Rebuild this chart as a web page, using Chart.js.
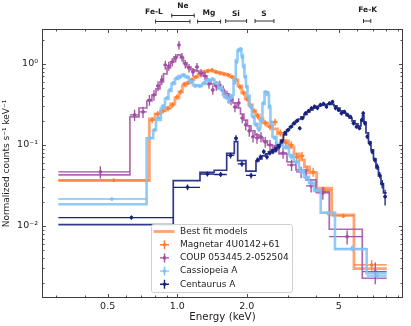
<!DOCTYPE html>
<html>
<head>
<meta charset="utf-8">
<script src="https://cdn.jsdelivr.net/npm/chart.js@4.4.1/dist/chart.umd.min.js"></script>
<style>
  html, body { margin: 0; padding: 0; background: #fff; }
  #spectra { display: block; }
</style>
</head>
<body>
<canvas id="spectra" width="411" height="326"></canvas>
<script>
// Magnetar 4U0142+61: bin edges (keV), counts, fractional errors, model
const magEdges = [0.306, 0.757, 0.801, 0.846, 0.889, 0.935, 0.977, 1.017, 1.053, 1.091, 1.135, 1.181, 1.229, 1.279, 1.331, 1.385, 1.441, 1.500, 1.561, 1.624, 1.690, 1.759, 1.830, 1.901, 1.968, 2.038, 2.111, 2.185, 2.263, 2.348, 2.455, 2.581, 2.713, 2.866, 3.027, 3.197, 3.377, 3.549, 3.731, 4.009, 4.654, 5.811, 8.05];
const magCounts = [0.0367, 0.203, 0.241, 0.263, 0.282, 0.312, 0.391, 0.451, 0.566, 0.583, 0.635, 0.691, 0.752, 0.797, 0.820, 0.843, 0.797, 0.774, 0.752, 0.731, 0.691, 0.635, 0.520, 0.439, 0.370, 0.303, 0.263, 0.228, 0.203, 0.187, 0.167, 0.192, 0.141, 0.106, 0.100, 0.0711, 0.0731, 0.0491, 0.0464, 0.0278, 0.0133, 0.0033];
const magErr = [0.05, 0.09, 0.09, 0.08, 0.08, 0.08, 0.07, 0.07, 0.06, 0.06, 0.06, 0.06, 0.06, 0.06, 0.06, 0.06, 0.06, 0.06, 0.06, 0.06, 0.06, 0.06, 0.07, 0.07, 0.07, 0.08, 0.08, 0.08, 0.08, 0.09, 0.09, 0.1, 0.1, 0.11, 0.11, 0.12, 0.12, 0.13, 0.13, 0.08, 0.06, 0.15];
const magModel = [0.0364, 0.209, 0.241, 0.263, 0.286, 0.321, 0.380, 0.451, 0.535, 0.583, 0.635, 0.691, 0.752, 0.797, 0.820, 0.820, 0.797, 0.774, 0.752, 0.731, 0.691, 0.635, 0.535, 0.439, 0.370, 0.312, 0.263, 0.235, 0.209, 0.187, 0.172, 0.158, 0.137, 0.112, 0.0945, 0.0774, 0.0653, 0.0535, 0.0451, 0.0292, 0.0137, 0.00298];

// COUP 053445.2-052504
const coupEdges = [0.306, 0.624, 0.683, 0.739, 0.777, 0.809, 0.842, 0.872, 0.903, 0.935, 0.968, 1.002, 1.032, 1.064, 1.102, 1.146, 1.193, 1.241, 1.292, 1.344, 1.399, 1.449, 1.500, 1.553, 1.608, 1.674, 1.741, 1.812, 1.877, 1.943, 2.012, 2.084, 2.168, 2.256, 2.348, 2.455, 2.581, 2.754, 2.983, 3.262, 3.604, 3.981, 4.544, 6.313, 8.05];
const coupCounts = [0.0465, 0.235, 0.256, 0.359, 0.414, 0.535, 0.635, 0.972, 0.945, 1.058, 1.186, 1.717, 1.220, 1.0, 0.893, 0.797, 0.918, 0.774, 0.711, 0.566, 0.478, 0.535, 0.550, 0.478, 0.414, 0.359, 0.294, 0.330, 0.215, 0.177, 0.149, 0.126, 0.122, 0.126, 0.109, 0.100, 0.0972, 0.0796, 0.0566, 0.0465, 0.0312, 0.0256, 0.00738, 0.00273];
const coupErr = [0.17, 0.16, 0.16, 0.15, 0.15, 0.14, 0.14, 0.13, 0.13, 0.12, 0.12, 0.12, 0.12, 0.12, 0.12, 0.12, 0.12, 0.12, 0.12, 0.13, 0.13, 0.13, 0.13, 0.13, 0.13, 0.14, 0.14, 0.14, 0.14, 0.15, 0.15, 0.15, 0.15, 0.15, 0.15, 0.15, 0.15, 0.15, 0.16, 0.16, 0.17, 0.18, 0.2, 0.3];
const coupModel = [0.0426, 0.222, 0.286, 0.349, 0.414, 0.491, 0.600, 0.752, 0.893, 1.058, 1.220, 1.291, 1.186, 1.029, 0.918, 0.843, 0.820, 0.774, 0.711, 0.635, 0.566, 0.535, 0.506, 0.464, 0.426, 0.380, 0.330, 0.286, 0.241, 0.203, 0.172, 0.149, 0.133, 0.122, 0.112, 0.100, 0.0892, 0.0774, 0.0617, 0.0491, 0.0370, 0.0263, 0.0091, 0.00226];

// Cassiopeia A
const casEdges = [0.306, 0.737, 0.787, 0.809, 0.850, 0.885, 0.916, 0.944, 0.977, 1.012, 1.048, 1.080, 1.124, 1.169, 1.223, 1.279, 1.331, 1.392, 1.449, 1.507, 1.576, 1.641, 1.699, 1.751, 1.791, 1.822, 1.858, 1.895, 1.923, 1.952, 1.982, 2.012, 2.053, 2.104, 2.158, 2.223, 2.290, 2.336, 2.384, 2.443, 2.493, 2.530, 2.581, 2.686, 2.866, 3.042, 3.197, 3.361, 3.532, 3.712, 3.902, 4.172, 4.809, 6.597, 8.05];
const casCounts = [0.0215, 0.122, 0.153, 0.215, 0.303, 0.380, 0.478, 0.583, 0.672, 0.691, 0.731, 0.691, 0.600, 0.535, 0.535, 0.583, 0.635, 0.653, 0.583, 0.506, 0.391, 0.340, 0.391, 0.583, 1.058, 1.489, 1.532, 1.220, 0.918, 0.691, 0.520, 0.391, 0.294, 0.222, 0.177, 0.153, 0.203, 0.330, 0.451, 0.439, 0.303, 0.192, 0.122, 0.100, 0.0945, 0.0711, 0.0617, 0.0465, 0.0391, 0.0340, 0.0278, 0.0143, 0.0053, 0.00241];
const casErr = [0.04, 0.06, 0.06, 0.05, 0.05, 0.05, 0.05, 0.05, 0.05, 0.05, 0.05, 0.05, 0.05, 0.05, 0.05, 0.05, 0.05, 0.05, 0.05, 0.05, 0.05, 0.05, 0.05, 0.05, 0.05, 0.05, 0.05, 0.05, 0.05, 0.05, 0.05, 0.05, 0.05, 0.05, 0.05, 0.05, 0.05, 0.05, 0.05, 0.05, 0.05, 0.05, 0.05, 0.07, 0.07, 0.07, 0.07, 0.07, 0.07, 0.07, 0.07, 0.06, 0.08, 0.1];
const casModel = [0.0185, 0.121, 0.153, 0.203, 0.286, 0.370, 0.464, 0.566, 0.653, 0.711, 0.731, 0.691, 0.617, 0.550, 0.535, 0.566, 0.617, 0.635, 0.583, 0.491, 0.414, 0.370, 0.414, 0.635, 1.120, 1.447, 1.532, 1.291, 0.972, 0.711, 0.535, 0.403, 0.303, 0.228, 0.182, 0.162, 0.209, 0.321, 0.451, 0.414, 0.286, 0.182, 0.126, 0.103, 0.0918, 0.0752, 0.0617, 0.0491, 0.0403, 0.0340, 0.0270, 0.0146, 0.00516, 0.0026];

// Centaurus A
const cenEdges = [0.306, 0.961, 1.254, 1.445, 1.636, 1.765, 1.825, 1.982, 2.190, 2.256, 2.324, 2.407, 2.480, 2.555, 2.633, 2.713, 2.795, 2.879, 2.967, 3.057, 3.149, 3.245, 3.343, 3.428, 3.532, 3.639, 3.750, 3.863, 3.981, 4.101, 4.226, 4.353, 4.486, 4.622, 4.762, 4.906, 5.055, 5.209, 5.367, 5.529, 5.697, 5.869, 6.047, 6.231, 6.324, 6.420, 6.549, 6.714, 6.884, 7.058, 7.235, 7.418, 7.603, 7.796, 8.05];
const cenCounts = [0.0127, 0.0300, 0.0438, 0.0432, 0.0742, 0.121, 0.0583, 0.0420, 0.0653, 0.0711, 0.0827, 0.0711, 0.0796, 0.0827, 0.0868, 0.0953, 0.110, 0.141, 0.153, 0.168, 0.185, 0.198, 0.161, 0.214, 0.246, 0.263, 0.284, 0.297, 0.286, 0.312, 0.321, 0.297, 0.327, 0.340, 0.286, 0.271, 0.246, 0.256, 0.235, 0.222, 0.185, 0.168, 0.161, 0.203, 0.246, 0.185, 0.127, 0.105, 0.0827, 0.0653, 0.0540, 0.0426, 0.0330, 0.0230];
const cenErr = [0.06, 0.08, 0.07, 0.07, 0.08, 0.09, 0.08, 0.08, 0.07, 0.07, 0.07, 0.07, 0.07, 0.07, 0.07, 0.07, 0.06, 0.06, 0.06, 0.06, 0.06, 0.06, 0.06, 0.06, 0.06, 0.06, 0.06, 0.06, 0.06, 0.06, 0.06, 0.06, 0.06, 0.06, 0.06, 0.06, 0.06, 0.06, 0.06, 0.06, 0.06, 0.06, 0.06, 0.07, 0.07, 0.07, 0.07, 0.07, 0.07, 0.07, 0.09, 0.09, 0.12, 0.22];
const cenModel = [0.0104, 0.0362, 0.0460, 0.0487, 0.0789, 0.110, 0.0640, 0.0476, 0.0635, 0.0672, 0.0731, 0.0774, 0.0819, 0.0868, 0.0918, 0.100, 0.115, 0.133, 0.153, 0.167, 0.182, 0.198, 0.209, 0.222, 0.238, 0.256, 0.271, 0.286, 0.299, 0.307, 0.312, 0.316, 0.321, 0.316, 0.303, 0.286, 0.263, 0.248, 0.231, 0.215, 0.198, 0.182, 0.172, 0.198, 0.231, 0.192, 0.141, 0.109, 0.0868, 0.0672, 0.0520, 0.0414, 0.0330, 0.0256];

// emission line bands marked above the plot (keV)
const lineNames = ['Fe-L', 'Ne', 'Mg', 'Si', 'S', 'Fe-K'];
const lineLo = [0.806, 0.946, 1.225, 1.62, 2.17, 6.39];
const lineHi = [1.135, 1.184, 1.54, 1.995, 2.62, 6.87];
const lineLabelAt = [0.793, 1.058, 1.371, 1.794, 2.371, 6.66];

// axes
const xTickVals = [0.5, 1, 2, 5];
const xTickLabels = ['0.5', '1.0', '2.0', '5'];
const xMinorVals = [0.3, 0.4, 0.6, 0.7, 0.8, 0.9, 3, 4, 6, 7, 8, 9];
const yTickVals = [0.01, 0.1, 1];
const yTickLabels = ['10⁻²', '10⁻¹', '10⁰'];
const yMinorVals = [0.002, 0.003, 0.004, 0.005, 0.006, 0.007, 0.008, 0.009, 0.02, 0.03, 0.04, 0.05, 0.06, 0.07, 0.08, 0.09, 0.2, 0.3, 0.4, 0.5, 0.6, 0.7, 0.8, 0.9, 2];

Chart.defaults.font.family = "'DejaVu Sans', sans-serif";

function dataPoints(edges, counts, errs) {
  return counts.map(function (v, i) {
    return {
      x: (edges[i] + edges[i + 1]) / 2, y: v,
      xLo: edges[i], xHi: edges[i + 1],
      yLo: v * (1 - errs[i]), yHi: v * (1 + errs[i])
    };
  });
}

function modelSteps(edges, model) {
  const pts = model.map(function (v, i) { return { x: edges[i], y: v }; });
  pts.push({ x: edges[edges.length - 1], y: model[model.length - 1] });
  return pts;
}

const sources = [
  { name: 'Magnetar 4U0142+61', edges: magEdges, counts: magCounts, errs: magErr, model: magModel,
    color: '#ff7f2e', modelColor: 'rgba(255,128,60,0.72)', modelWidth: 2.8 },
  { name: 'COUP 053445.2-052504', edges: coupEdges, counts: coupCounts, errs: coupErr, model: coupModel,
    color: '#a24fa3', modelColor: 'rgba(162,79,163,0.85)', modelWidth: 1.7 },
  { name: 'Cassiopeia A', edges: casEdges, counts: casCounts, errs: casErr, model: casModel,
    color: '#7fc1f7', modelColor: 'rgba(127,193,247,0.85)', modelWidth: 2.6 },
  { name: 'Centaurus A', edges: cenEdges, counts: cenCounts, errs: cenErr, model: cenModel,
    color: '#19237f', modelColor: 'rgba(25,35,127,0.9)', modelWidth: 1.7 }
];

const datasets = [];
sources.forEach(function (s, k) {
  datasets.push({
    label: s.name + ' model',
    data: modelSteps(s.edges, s.model),
    showLine: true,
    stepped: true,
    borderColor: s.modelColor,
    borderWidth: s.modelWidth,
    pointRadius: 0,
    order: 8 - 2 * k
  });
  datasets.push({
    label: s.name,
    data: dataPoints(s.edges, s.counts, s.errs),
    showLine: false,
    pointRadius: 1.8,
    pointBorderWidth: 0,
    backgroundColor: s.color,
    borderColor: s.color,
    errorBars: true,
    order: 7 - 2 * k
  });
});

const errorBars = {
  id: 'errorBars',
  afterDatasetDraw(chart, args) {
    const ds = chart.data.datasets[args.index];
    if (!ds.errorBars) return;
    const { ctx, chartArea: a, scales: { x, y } } = chart;
    ctx.save();
    ctx.beginPath();
    ctx.rect(a.left, a.top, a.right - a.left, a.bottom - a.top);
    ctx.clip();
    ctx.strokeStyle = ds.borderColor;
    ctx.lineWidth = 1.3;
    ctx.beginPath();
    ds.data.forEach(function (p) {
      const px = x.getPixelForValue(p.x), py = y.getPixelForValue(p.y);
      ctx.moveTo(x.getPixelForValue(p.xLo), py);
      ctx.lineTo(x.getPixelForValue(p.xHi), py);
      ctx.moveTo(px, y.getPixelForValue(p.yLo));
      ctx.lineTo(px, y.getPixelForValue(p.yHi));
    });
    ctx.stroke();
    ctx.restore();
  }
};

// frame with inward ticks on all four sides
const frameTicks = {
  id: 'frameTicks',
  afterDatasetsDraw(chart) {
    const { ctx, chartArea: a, scales: { x, y } } = chart;
    const L = Math.round(a.left) + 0.5, R = Math.round(a.right) - 0.5;
    const T = Math.round(a.top) + 0.5, B = Math.round(a.bottom) - 0.5;
    ctx.save();
    ctx.strokeStyle = '#3c3c3c';
    ctx.lineWidth = 1;
    ctx.strokeRect(L, T, R - L, B - T);
    ctx.lineWidth = 0.9;
    ctx.beginPath();
    function xt(v, len) {
      const p = Math.round(x.getPixelForValue(v)) + 0.5;
      ctx.moveTo(p, B); ctx.lineTo(p, B - len);
      ctx.moveTo(p, T); ctx.lineTo(p, T + len);
    }
    function yt(v, len) {
      const p = Math.round(y.getPixelForValue(v)) + 0.5;
      ctx.moveTo(L, p); ctx.lineTo(L + len, p);
      ctx.moveTo(R, p); ctx.lineTo(R - len, p);
    }
    xTickVals.forEach(function (v) { xt(v, 3.5); });
    xMinorVals.forEach(function (v) { xt(v, 2); });
    yTickVals.forEach(function (v) { yt(v, 3.5); });
    yMinorVals.forEach(function (v) { yt(v, 2); });
    ctx.stroke();
    ctx.restore();
  }
};

// line band markers above the axes
const lineBands = {
  id: 'lineBands',
  afterDraw(chart) {
    const { ctx, scales: { x } } = chart;
    const barY = [21.5, 15.5, 21.5, 21, 21, 21];
    const textY = [14, 8.3, 14.5, 15.5, 15.5, 11.8];
    ctx.save();
    ctx.strokeStyle = '#333';
    ctx.lineWidth = 1;
    ctx.fillStyle = '#222';
    ctx.font = 'bold 7.5px "DejaVu Sans"';
    ctx.textAlign = 'center';
    ctx.textBaseline = 'alphabetic';
    lineNames.forEach(function (name, i) {
      const x1 = x.getPixelForValue(lineLo[i]), x2 = x.getPixelForValue(lineHi[i]);
      const yy = barY[i];
      ctx.beginPath();
      ctx.moveTo(x1, yy); ctx.lineTo(x2, yy);
      ctx.moveTo(x1, yy - 2); ctx.lineTo(x1, yy + 2);
      ctx.moveTo(x2, yy - 2); ctx.lineTo(x2, yy + 2);
      ctx.stroke();
      ctx.fillText(name, x.getPixelForValue(lineLabelAt[i]), textY[i]);
    });
    ctx.restore();
  }
};

const boxLegend = {
  id: 'boxLegend',
  afterDraw(chart) {
    const ctx = chart.ctx;
    const bx = 151.5, by = 224.5, bw = 141, bh = 68;
    ctx.save();
    ctx.beginPath();
    if (ctx.roundRect) ctx.roundRect(bx, by, bw, bh, 2); else ctx.rect(bx, by, bw, bh);
    ctx.fillStyle = 'rgba(255,255,255,0.85)';
    ctx.fill();
    ctx.strokeStyle = '#d0d0d0';
    ctx.lineWidth = 1;
    ctx.stroke();
    ctx.font = '9px "DejaVu Sans"';
    ctx.textBaseline = 'middle';
    ctx.textAlign = 'left';
    const rowY = [231.5, 244.7, 257.9, 271.1, 284.3];
    const hx = 164.5;
    // model handle
    ctx.strokeStyle = sources[0].modelColor;
    ctx.lineWidth = 2.8;
    ctx.beginPath();
    ctx.moveTo(153.5, rowY[0]); ctx.lineTo(174.5, rowY[0]);
    ctx.stroke();
    ctx.fillStyle = '#222';
    ctx.fillText('Best fit models', 180, rowY[0]);
    sources.forEach(function (s, i) {
      const yy = rowY[i + 1];
      ctx.strokeStyle = s.color;
      ctx.fillStyle = s.color;
      ctx.lineWidth = 1.4;
      ctx.beginPath();
      ctx.moveTo(hx - 4.5, yy); ctx.lineTo(hx + 4.5, yy);
      ctx.moveTo(hx, yy - 4.5); ctx.lineTo(hx, yy + 4.5);
      ctx.stroke();
      ctx.beginPath();
      ctx.arc(hx, yy, 1.8, 0, Math.PI * 2);
      ctx.fill();
      ctx.fillStyle = '#222';
      ctx.fillText(s.name, 180, yy);
    });
    ctx.restore();
  }
};

new Chart(document.getElementById('spectra'), {
  type: 'scatter',
  data: { datasets: datasets },
  options: {
    responsive: false,
    animation: false,
    events: [],
    layout: { padding: { top: 29, right: 8, left: 0, bottom: 0 } },
    scales: {
      x: {
        type: 'logarithmic',
        min: 0.26,
        max: 9.47,
        afterBuildTicks: function (axis) { axis.ticks = xTickVals.map(function (v) { return { value: v }; }); },
        afterFit: function (axis) { axis.height = 28; },
        grid: { display: false, drawTicks: false },
        border: { display: false },
        ticks: {
          autoSkip: false, maxRotation: 0, padding: 3, color: '#222', font: { size: 9.5 },
          callback: function (v, i) { return xTickLabels[i]; }
        },
        title: { display: true, text: 'Energy (keV)', color: '#222', font: { size: 10.3 }, padding: { top: 0, bottom: 2 } }
      },
      y: {
        type: 'logarithmic',
        min: 0.00129,
        max: 2.7,
        afterBuildTicks: function (axis) { axis.ticks = yTickVals.map(function (v) { return { value: v }; }); },
        afterFit: function (axis) { axis.width = 42; },
        grid: { display: false, drawTicks: false },
        border: { display: false },
        ticks: {
          autoSkip: false, padding: 4, color: '#222', font: { size: 9.5 },
          callback: function (v, i) { return yTickLabels[i]; }
        },
        title: { display: true, text: 'Normalized counts s⁻¹ keV⁻¹', color: '#222', font: { size: 9 }, padding: { top: 1.6, bottom: 0 } }
      }
    },
    plugins: { legend: { display: false }, tooltip: { enabled: false } }
  },
  plugins: [errorBars, frameTicks, lineBands, boxLegend]
});
</script>
</body>
</html>
